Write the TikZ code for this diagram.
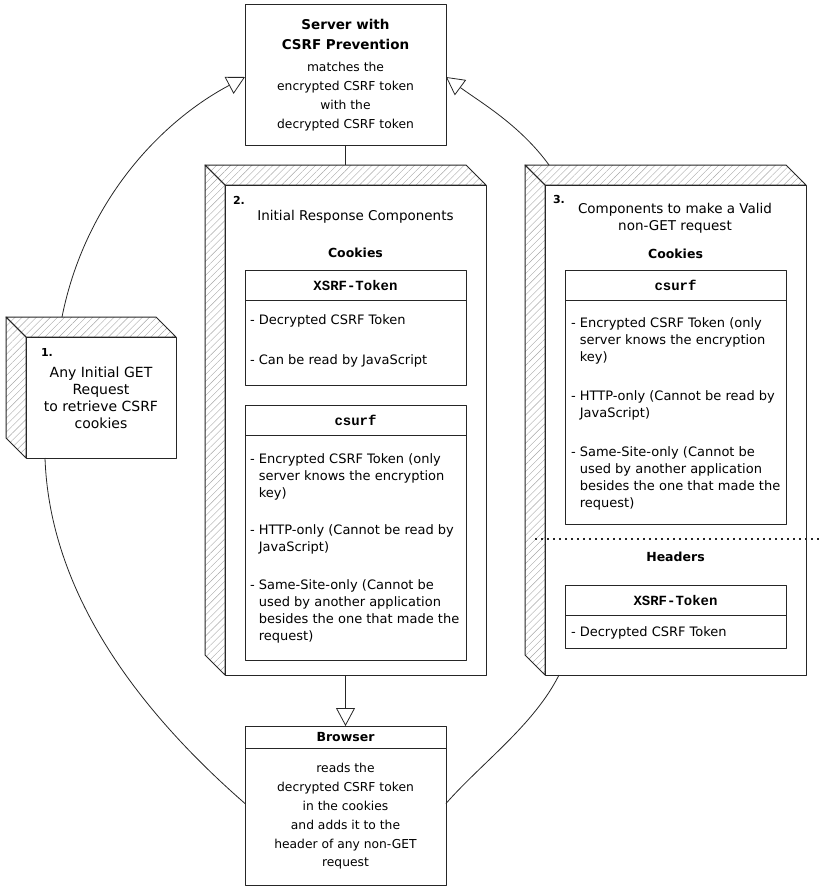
\documentclass[tikz,border=0pt]{standalone}
\usepackage{fontspec}
\setmainfont{DejaVu Sans}
\setmonofont{Liberation Mono}
\usetikzlibrary{arrows.meta,patterns.meta,calc,positioning}
\newcommand{\dashpad}{\hphantom{- }}

\begin{document}
\begin{tikzpicture}[x=1pt,y=-1pt,line join=round,
    every node/.style={inner sep=0pt,outer sep=0pt},
    frame/.style={draw=black!85,line width=1pt},
    side/.style={frame,pattern={Lines[angle=45,distance=5pt,line width=0.4pt]},pattern color=black!35},
    flow/.style={draw=black!85,line width=0.8pt},
    hollow/.style={-{Triangle[open,length=18pt,width=19pt]}},
    txt/.style={font=\fontsize{13}{17}\selectfont,align=left,anchor=north west},
    heading/.style={font=\bfseries\fontsize{12.5}{16}\selectfont},
    num/.style={font=\bfseries\fontsize{11}{13}\selectfont,anchor=west},
    tag/.style={frame,minimum width=221pt,minimum height=30pt,font=\ttfamily\bfseries\fontsize{14}{16}\selectfont},
    pane/.style={frame,minimum width=221pt,anchor=north}]

  \useasboundingbox (0,0) rectangle (822,891);

  % server on top
  \node[frame,minimum width=201pt,minimum height=140pt,align=center,font=\fontsize{12.3}{19}\selectfont] (server) at (345.5,75)
    {\textbf{\fontsize{13.5}{19}\selectfont Server with}\\[1pt]\textbf{\fontsize{13.5}{19}\selectfont CSRF Prevention}\\[3pt]matches the\\encrypted CSRF token\\with the\\decrypted CSRF token};

  % the three steps
  \node[frame,minimum width=150pt,minimum height=121pt,align=center,font=\fontsize{14}{17}\selectfont] (req) at (101,397.5)
    {Any Initial GET\\Request\\to retrieve CSRF\\cookies};
  \node[frame,minimum width=261pt,minimum height=490pt] (resp) at (355.5,430) {};
  \node[frame,minimum width=261pt,minimum height=490pt] (valid) at (675.5,430) {};

  \foreach \c in {req,resp,valid} {
    \draw[side] (\c.north west) -- ++(-20,-20) -- ($(\c.north east)+(-20,-20)$) -- (\c.north east) -- cycle;
    \draw[side] (\c.north west) -- ++(-20,-20) -- ($(\c.south west)+(-20,-20)$) -- (\c.south west) -- cycle;
  }

  \node[num] (reqnum) at (41,352) {1.};

  % 2. initial response
  \node[num] (respnum) at (233,200) {2.};
  \node[font=\fontsize{13.5}{17}\selectfont] (resptitle) at (355.5,217) {Initial Response Components};
  \node[heading] (respcookies) at (355.5,253) {Cookies};
  \node[tag] (xsrf) at (355.5,285) {XSRF-Token};
  \node[pane,minimum height=85pt] (xsrfbody) at (xsrf.south) {};
  \node[txt] at (250,315) {- Decrypted CSRF Token};
  \node[txt] at (250,355) {- Can be read by JavaScript};
  \node[tag] (csurf) at (355.5,420) {csurf};
  \node[pane,minimum height=225pt] (csurfbody) at (csurf.south) {};
  \node[txt] at (250,454) {- Encrypted CSRF Token (only\\\dashpad server knows the encryption\\\dashpad key)};
  \node[txt] at (250,525) {- HTTP-only (Cannot be read by\\\dashpad JavaScript)};
  \node[txt] at (250,580) {- Same-Site-only (Cannot be\\\dashpad used by another application\\\dashpad besides the one that made the\\\dashpad request)};

  % 3. valid non-GET request
  \node[num] (validnum) at (553,199) {3.};
  \node[align=center,font=\fontsize{13.5}{17}\selectfont] (validtitle) at (675,218) {Components to make a Valid\\non-GET request};
  \node[heading] (validcookies) at (675.5,254) {Cookies};
  \node[tag] (vcsurf) at (675.5,285) {csurf};
  \node[pane,minimum height=224pt] (vcsurfbody) at (vcsurf.south) {};
  \node[txt] at (571,318) {- Encrypted CSRF Token (only\\\dashpad server knows the encryption\\\dashpad key)};
  \node[txt] at (571,391) {- HTTP-only (Cannot be read by\\\dashpad JavaScript)};
  \node[txt] at (571,447) {- Same-Site-only (Cannot be\\\dashpad used by another application\\\dashpad besides the one that made the\\\dashpad request)};
  \draw[draw=black!85,line width=1.6pt,dash pattern=on 2pt off 4pt] (535,539) -- (822,539);
  \node[heading] (validheaders) at (675.5,557) {Headers};
  \node[tag] (vxsrf) at (675.5,600) {XSRF-Token};
  \node[pane,minimum height=33pt] (vxsrfbody) at (vxsrf.south) {};
  \node[txt] at (571,627) {- Decrypted CSRF Token};

  % browser
  \node[frame,heading,minimum width=201pt,minimum height=22pt] (browser) at (345.5,737) {Browser};
  \node[pane,minimum width=201pt,minimum height=137pt,align=center,font=\fontsize{12.3}{18.8}\selectfont] (info) at (browser.south)
    {reads the\\decrypted CSRF token\\in the cookies\\and adds it to the\\header of any non-GET\\request};

  % connectors
  \coordinate (resptop) at ($(resp.north)+(0,-20)$);
  \coordinate (reqtop) at ($(req.north west)+(36,-20)$);
  \coordinate (reqbot) at ($(req.south west)+(19,0)$);
  \coordinate (validtop) at ($(valid.north west)+(4,-20)$);
  \coordinate (validbot) at ($(valid.south west)+(14,0)$);

  \draw[flow] (server.south) -- (server.south |- resptop);
  \draw[flow,hollow] (browser.north |- resp.south) -- (browser.north);
  \draw[flow,hollow] (reqtop) .. controls +(23,-115) and +(-85,45) .. ([yshift=-2pt]server.west);
  \draw[flow,hollow] (validtop) .. controls +(-29,-40) and +(34,25) .. ([yshift=-2pt]server.east);
  \draw[flow] (reqbot) .. controls +(5,144) and +(-95,-83) .. ([yshift=13pt]info.west);
  \draw[flow] (validbot) .. controls +(-25,50) and +(35,-40) .. ([yshift=13pt]info.east);
\end{tikzpicture}
\end{document}
